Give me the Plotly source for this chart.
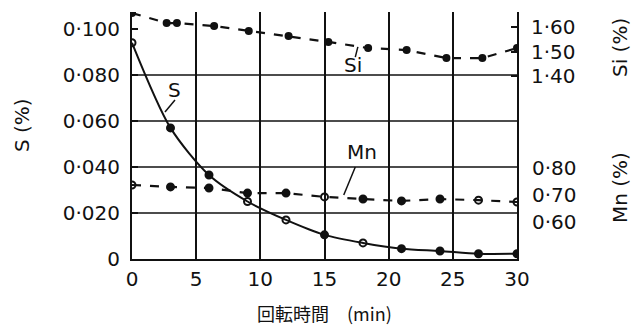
import plotly.graph_objects as go

# ---- data ----
time_s = [0, 3, 6, 9, 12, 15, 18, 21, 24, 27, 30]
s_pct = [0.094, 0.057, 0.0365, 0.025, 0.017, 0.0105, 0.007, 0.0045, 0.0035, 0.0023, 0.0023]
s_open = [True, False, False, True, True, False, True, False, False, False, False]

time_si = [0, 2.7, 3.5, 6.4, 9.1, 12.2, 15.3, 18.4, 21.4, 24.5, 27.3, 30]
si_pct = [1.657, 1.616, 1.616, 1.604, 1.584, 1.563, 1.539, 1.514, 1.506, 1.473, 1.473, 1.514]

time_mn = [0, 3, 6, 9, 12, 15, 18, 21, 24, 27, 30]
mn_pct = [0.737, 0.730, 0.726, 0.707, 0.707, 0.693, 0.685, 0.678, 0.685, 0.681, 0.674]
mn_open = [True, False, False, False, False, True, False, False, False, True, True]

x_ticks = [0, 5, 10, 15, 20, 25, 30]
s_ticks = [0, 0.02, 0.04, 0.06, 0.08, 0.10]
s_ticktext = ["0", "0·020", "0·040", "0·060", "0·080", "0·100"]
si_ticks = [1.40, 1.50, 1.60]
si_ticktext = ["1·40", "1·50", "1·60"]
mn_ticks = [0.60, 0.70, 0.80]
mn_ticktext = ["0·60", "0·70", "0·80"]

FONT = "DejaVu Sans"
BLACK = "#111111"

def symbols(flags):
    return ["circle-open" if f else "circle" for f in flags]

fig = go.Figure()

fig.add_trace(go.Scatter(
    x=time_s, y=s_pct, mode="lines+markers", yaxis="y",
    line=dict(color=BLACK, width=2, shape="spline", smoothing=0.8),
    marker=dict(symbol=symbols(s_open), size=7, color=BLACK,
                line=dict(color=BLACK, width=2)),
    showlegend=False))

fig.add_trace(go.Scatter(
    x=time_si, y=si_pct, mode="lines+markers", yaxis="y2",
    line=dict(color=BLACK, width=2.2, dash="dash"),
    marker=dict(symbol="circle", size=8, color=BLACK),
    showlegend=False))

fig.add_trace(go.Scatter(
    x=time_mn, y=mn_pct, mode="lines+markers", yaxis="y3",
    line=dict(color=BLACK, width=2.2, dash="dash"),
    marker=dict(symbol=symbols(mn_open), size=7, color=BLACK,
                line=dict(color=BLACK, width=2)),
    showlegend=False))

L, R, T, B = 132, 125, 12, 72
W, H = 642, 331
s_top = (H - B - T) / 2300.0  # S-axis units at top of plot
si_lo = 1.50 - (H - B - 51.5) / 245.0
si_hi = 1.50 + (51.5 - T) / 245.0
mn_lo = 0.70 - (H - B - 195) / 270.0
mn_hi = 0.70 + (195 - T) / 270.0

fig.update_layout(
    width=W, height=H,
    margin=dict(l=L, r=R, t=T, b=B, pad=0),
    paper_bgcolor="white", plot_bgcolor="white",
    font=dict(family=FONT, color=BLACK, size=20),
    xaxis=dict(range=[0, 30], tickvals=x_ticks, ticktext=[str(v) for v in x_ticks],
               showgrid=True, gridcolor=BLACK, gridwidth=1.5,
               showline=True, linecolor=BLACK, linewidth=2,
               ticks="", ticklabelstandoff=1, zeroline=False,
               tickfont=dict(size=20)),
    yaxis=dict(range=[0, s_top], tickvals=s_ticks, ticktext=s_ticktext,
               showgrid=False, showline=True, linecolor=BLACK, linewidth=2,
               ticks="inside", ticklen=6, tickwidth=1.5, tickcolor=BLACK,
               ticklabelstandoff=6, zeroline=False, tickfont=dict(size=20)),
    yaxis2=dict(range=[si_lo, si_hi], overlaying="y", side="right",
                tickvals=si_ticks, ticktext=si_ticktext, showgrid=False,
                showline=True, linecolor=BLACK, linewidth=2,
                ticks="inside", ticklen=6, tickwidth=1.5, tickcolor=BLACK,
                ticklabelstandoff=8, zeroline=False, tickfont=dict(size=20)),
    yaxis3=dict(range=[mn_lo, mn_hi], overlaying="y", side="right",
                tickvals=mn_ticks, ticktext=mn_ticktext, showgrid=False,
                showline=False, ticks="", ticklabelstandoff=14,
                zeroline=False, tickfont=dict(size=20)),
)

# horizontal grid lines at the S ticks (no line at top)
for v in [0.02, 0.04, 0.06, 0.08]:
    fig.add_shape(type="line", xref="x", yref="y", x0=0, x1=30, y0=v, y1=v,
                  line=dict(color=BLACK, width=1.5), layer="below")

# leader lines of the series labels
leaders = [((3.35, 0.0691), (2.57, 0.0639)),
           ((17.4, 0.0878), (17.6, 0.0922)),
           ((17.4, 0.0400), (16.5, 0.0278))]
for (xa, ya), (xb, yb) in leaders:
    fig.add_shape(type="line", xref="x", yref="y", x0=xa, y0=ya, x1=xb, y1=yb,
                  line=dict(color=BLACK, width=1.5))

labels = [("S", 3.35, 0.0735), ("Si", 17.2, 0.0843), ("Mn", 17.9, 0.0465)]
for txt, xv, yv in labels:
    fig.add_annotation(text=txt, x=xv, y=yv, xref="x", yref="y",
                       showarrow=False, font=dict(size=20, family=FONT))

# axis titles, given in page pixels and converted to paper coordinates
pw, ph = W - L - R, H - T - B
titles = [("S (%)", 22, 125, -90, 20, FONT),
          ("Si (%)", 620, 48, -90, 20, FONT),
          ("Mn (%)", 620, 188, -90, 20, FONT),
          ("回転時間　(min)", 324, 313, 0, 18, "Noto Sans CJK JP")]
for txt, px, py, ang, sz, fam in titles:
    fig.add_annotation(text=txt, x=(px - L) / pw, y=1 - (py - T) / ph,
                       xref="paper", yref="paper", xanchor="center",
                       yanchor="middle", showarrow=False, textangle=ang,
                       font=dict(size=sz, family=fam))

fig.write_html("out.html", config={"displayModeBar": False},
               post_script="document.body.style.margin='0';document.body.style.padding='0';")
